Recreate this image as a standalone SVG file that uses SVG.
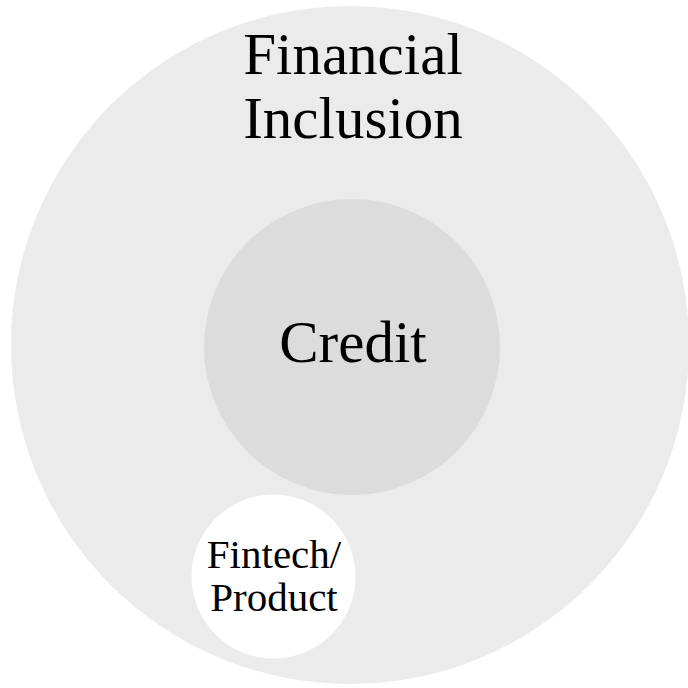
<svg xmlns="http://www.w3.org/2000/svg" width="688" height="688" viewBox="0 0 688 688">
<style>
.lbl{font-family:"Liberation Serif","Times New Roman",serif;fill:#000;text-anchor:middle}
.big{font-size:59px}
.small{font-size:41px}
</style>
<rect width="688" height="688" fill="#ffffff"/>
<g id="financial-inclusion">
<circle cx="350" cy="345" r="339" fill="#ebebeb"/>
<text class="lbl big" x="353" y="74">Financial</text>
<text class="lbl big" x="353" y="138">Inclusion</text>
</g>
<g id="credit">
<circle cx="352" cy="347" r="148" fill="#dcdcdc"/>
<text class="lbl big" x="353" y="362">Credit</text>
</g>
<g id="fintech-product">
<circle cx="273.5" cy="576.5" r="82" fill="#ffffff"/>
<text class="lbl small" x="274" y="568">Fintech/</text>
<text class="lbl small" x="274" y="611">Product</text>
</g>
<g id="connectors"/>
</svg>
